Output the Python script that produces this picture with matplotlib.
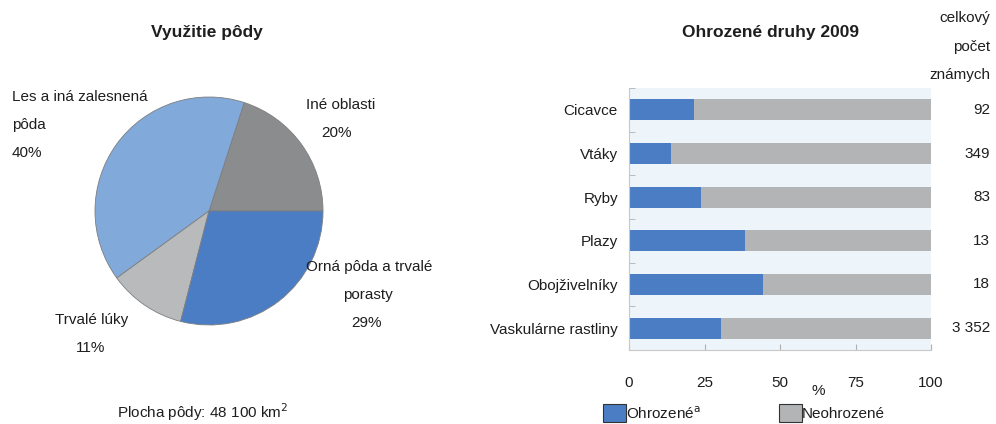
import matplotlib
matplotlib.use("Agg")
import matplotlib.pyplot as plt
from matplotlib.patches import Rectangle
import numpy as np

# ---- data ----
pie_labels = ["Iné oblasti", "Les a iná zalesnená\npôda", "Trvalé lúky", "Orná pôda a trvalé\nporasty"]
pie_values = [20, 40, 11, 29]
pie_colors = ["#8b8c8e", "#81a9d9", "#b8babc", "#4b7dc5"]

categories = ["Cicavce", "Vtáky", "Ryby", "Plazy", "Obojživelníky", "Vaskulárne rastliny"]
threatened = [21.5, 14, 24, 38.5, 44.5, 30.5]
totals = ["92", "349", "83", "13", "18", "3 352"]
xticks = [0, 25, 50, 75, 100]

W, H = 996, 424
NARROW = ["Liberation Sans Narrow", "Liberation Sans", "DejaVu Sans"]
BOLD = ["Liberation Sans", "DejaVu Sans"]
plt.rcParams["font.family"] = NARROW
FS = 11

fig = plt.figure(figsize=(W / 100, H / 100), dpi=100)
fig.patch.set_facecolor("white")


def fx(x):
    return x / W


def fy(y):
    return 1 - y / H


def ftext(x, y, s, **kw):
    kw.setdefault("fontsize", FS)
    kw.setdefault("color", "#1e1e1e")
    return fig.text(fx(x), fy(y), s, **kw)


# ---- pie ----
cx, cy, r = 209, 211, 114
axp = fig.add_axes([fx(cx - r), fy(cy + r), 2 * r / W, 2 * r / H])
axp.pie(pie_values, colors=pie_colors, startangle=0, counterclock=True,
        wedgeprops=dict(edgecolor="#7d7e80", linewidth=0.6))
axp.set_xlim(-1, 1)
axp.set_ylim(-1, 1)
axp.set_aspect("equal")
axp.axis("off")

ftext(207, 33, "Využitie pôdy", ha="center", va="center", fontweight="bold",
      family=BOLD, fontsize=12.5)

# pie labels
ftext(12, 97, "Les a iná zalesnená", ha="left", va="center")
ftext(12, 125, "pôda", ha="left", va="center")
ftext(12, 153, f"{pie_values[1]}%", ha="left", va="center")
ftext(341, 105, "Iné oblasti", ha="center", va="center")
ftext(336, 133, f"{pie_values[0]}%", ha="center", va="center")
ftext(369, 267, "Orná pôda a trvalé", ha="center", va="center")
ftext(368, 295, "porasty", ha="center", va="center")
ftext(367, 323, f"{pie_values[3]}%", ha="center", va="center")
ftext(92, 320, "Trvalé lúky", ha="center", va="center")
ftext(91, 348, f"{pie_values[2]}%", ha="center", va="center")

ftext(203, 423, "Plocha pôdy: 48 100 km$^2$", ha="center", va="bottom")

# ---- bars ----
L, R, T, B = 629, 931, 88, 350
axb = fig.add_axes([fx(L), fy(B), (R - L) / W, (B - T) / H])
axb.set_facecolor("#eef5fa")
y = np.arange(len(categories))
rest = [100 - v for v in threatened]
axb.barh(y, threatened, height=0.48, color="#4b7dc5", linewidth=0)
axb.barh(y, rest, left=threatened, height=0.48, color="#b3b4b6", linewidth=0)
axb.set_xlim(0, 100)
axb.set_ylim(len(categories) - 0.5, -0.5)
axb.set_xticks(xticks)
axb.set_xticklabels([str(t) for t in xticks], fontsize=FS, color="#1e1e1e")
axb.tick_params(axis="x", direction="in", length=4, color="#b0b0b0", pad=19)
axb.set_yticks(y)
axb.set_yticklabels(categories, fontsize=FS, color="#1e1e1e")
axb.tick_params(axis="y", length=0, pad=8)
axb.set_yticks(np.arange(-0.5, len(categories), 1), minor=True)
axb.tick_params(axis="y", which="minor", direction="in", length=4, color="#b0b0b0")
for s in ["top", "right"]:
    axb.spines[s].set_visible(False)
for s in ["left", "bottom"]:
    axb.spines[s].set_color("#c8c8c8")
    axb.spines[s].set_linewidth(0.8)

ftext(771, 33, "Ohrozené druhy 2009", ha="center", va="center", fontweight="bold",
      family=BOLD, fontsize=12.5)
ftext(990, 18, "celkový", ha="right", va="center")
ftext(990, 47, "počet", ha="right", va="center")
ftext(990, 75, "známych", ha="right", va="center")
for i, t in enumerate(totals):
    yy = T + (i + 0.5) * (B - T) / len(categories)
    ftext(990, yy, t, ha="right", va="center")

ftext(818, 391, "%", ha="center", va="center")

# legend
for (x0, col, lab) in [(603, "#4b7dc5", "Ohrozené$^{\\mathrm{a}}$"), (779, "#b3b4b6", "Neohrozené")]:
    fig.patches.append(Rectangle((fx(x0), fy(422)), 23 / W, 18 / H, transform=fig.transFigure,
                                 facecolor=col, edgecolor="#333333", linewidth=0.8))
    ftext(x0 + 23, 414, lab, ha="left", va="center")

fig.savefig("out.png", dpi=100)
